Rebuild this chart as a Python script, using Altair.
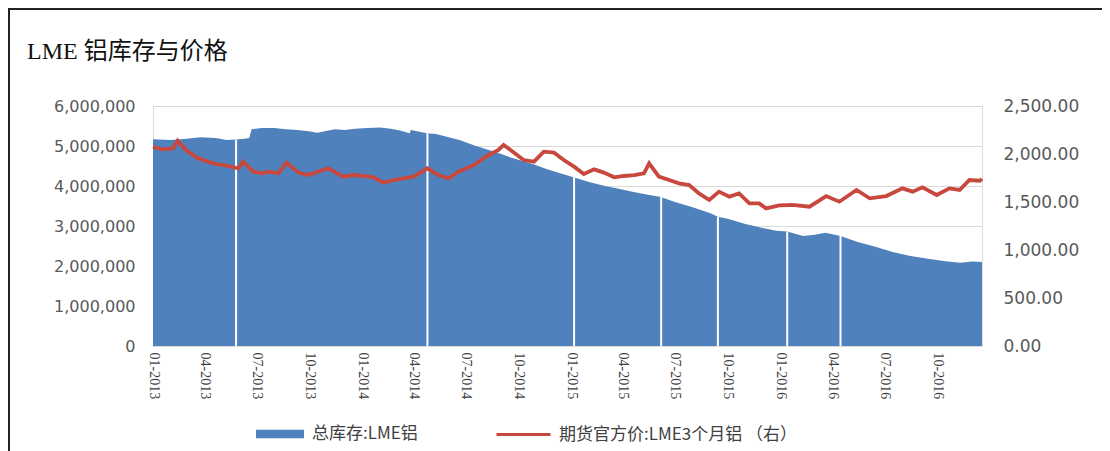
import altair as alt
import pandas as pd

# ---------------- data ----------------
inv_dates = [
    "2013-01-01", "2013-02-01", "2013-03-01", "2013-03-25", "2013-04-20", "2013-05-10", "2013-05-25",
    "2013-06-10", "2013-06-18", "2013-06-22", "2013-07-10", "2013-08-01", "2013-08-20", "2013-09-10",
    "2013-09-30", "2013-10-15", "2013-11-01", "2013-11-15", "2013-12-01", "2013-12-20", "2014-01-10",
    "2014-02-01", "2014-02-20", "2014-03-10", "2014-03-25", "2014-03-27", "2014-04-24", "2014-05-10",
    "2014-06-01", "2014-06-20", "2014-07-15", "2014-08-10", "2014-09-01", "2014-09-20", "2014-10-10",
    "2014-11-01", "2014-11-20", "2014-12-10", "2015-01-05", "2015-02-01", "2015-03-01", "2015-03-25",
    "2015-04-20", "2015-05-15", "2015-06-05", "2015-07-01", "2015-08-01", "2015-09-01", "2015-09-14",
    "2015-10-01", "2015-11-01", "2015-12-01", "2015-12-25", "2016-01-13", "2016-02-10", "2016-03-01",
    "2016-03-20", "2016-04-15", "2016-05-15", "2016-06-15", "2016-07-15", "2016-08-15", "2016-09-15",
    "2016-10-15", "2016-11-10", "2016-12-01", "2016-12-18",
]
inv_values = [
    5170000, 5150000, 5180000, 5220000, 5200000, 5150000, 5160000,
    5180000, 5200000, 5420000, 5450000, 5450000, 5420000, 5400000,
    5370000, 5330000, 5380000, 5420000, 5400000, 5430000, 5450000,
    5460000, 5430000, 5380000, 5320000, 5400000, 5320000, 5300000,
    5220000, 5150000, 5020000, 4900000, 4800000, 4700000, 4620000,
    4520000, 4420000, 4330000, 4220000, 4100000, 4000000, 3930000,
    3850000, 3780000, 3730000, 3600000, 3470000, 3320000, 3230000,
    3180000, 3050000, 2950000, 2880000, 2860000, 2750000, 2780000,
    2830000, 2750000, 2600000, 2480000, 2350000, 2250000, 2180000,
    2120000, 2080000, 2110000, 2100000,
]

gap_dates = ["2013-05-26", "2014-04-25", "2015-01-06", "2015-06-07", "2015-09-14", "2016-01-13", "2016-04-15"]
gap_values = [5160000, 5320000, 4220000, 3730000, 3230000, 2860000, 2750000]

price_dates = [
    "2013-01-01", "2013-01-10", "2013-01-18", "2013-02-05", "2013-02-13", "2013-02-20", "2013-03-03",
    "2013-03-21", "2013-04-16", "2013-05-12", "2013-05-30", "2013-06-07", "2013-06-25", "2013-07-12",
    "2013-07-21", "2013-08-08", "2013-08-22", "2013-09-12", "2013-09-29", "2013-10-25", "2013-11-03",
    "2013-11-29", "2013-12-17", "2014-01-03", "2014-01-21", "2014-02-07", "2014-02-25", "2014-03-14",
    "2014-04-01", "2014-04-25", "2014-05-14", "2014-06-01", "2014-06-18", "2014-07-15", "2014-08-10",
    "2014-08-27", "2014-09-05", "2014-09-17", "2014-10-10", "2014-10-28", "2014-11-14", "2014-12-02",
    "2014-12-19", "2015-01-06", "2015-01-23", "2015-02-10", "2015-02-27", "2015-03-17", "2015-04-03",
    "2015-04-21", "2015-05-08", "2015-05-17", "2015-06-03", "2015-06-21", "2015-07-08", "2015-07-26",
    "2015-08-12", "2015-08-30", "2015-09-16", "2015-10-04", "2015-10-21", "2015-11-08", "2015-11-25",
    "2015-12-07", "2015-12-30", "2016-01-22", "2016-02-21", "2016-03-21", "2016-04-13", "2016-05-13",
    "2016-06-05", "2016-07-04", "2016-08-01", "2016-08-19", "2016-09-05", "2016-09-30", "2016-10-22",
    "2016-11-09", "2016-11-26", "2016-12-14", "2016-12-18",
]
price_values = [
    2076, 2060, 2049, 2059, 2139, 2090, 2024,
    1955, 1903, 1875, 1851, 1920, 1816, 1799,
    1816, 1799, 1910, 1806, 1781, 1833, 1851,
    1764, 1781, 1771, 1757, 1701, 1729, 1747,
    1764, 1851, 1781, 1747, 1816, 1885, 1990,
    2042, 2094, 2042, 1937, 1920, 2024, 2014,
    1937, 1868, 1792, 1840, 1806, 1757, 1771,
    1781, 1799, 1903, 1764, 1729, 1694, 1677,
    1590, 1521, 1608, 1556, 1590, 1486, 1486,
    1434, 1465, 1469, 1451, 1562, 1503, 1625,
    1538, 1562, 1642, 1608, 1653, 1573, 1642,
    1625, 1729, 1722, 1740,
]

inv_ticks = [0, 1000000, 2000000, 3000000, 4000000, 5000000, 6000000]
price_ticks = [0, 500, 1000, 1500, 2000, 2500]
x_tick_months = [(2013, 1), (2013, 4), (2013, 7), (2013, 10),
                 (2014, 1), (2014, 4), (2014, 7), (2014, 10),
                 (2015, 1), (2015, 4), (2015, 7), (2015, 10),
                 (2016, 1), (2016, 4), (2016, 7), (2016, 10)]

title_text = "LME 铝库存与价格"
inv_name = "总库存:LME铝"
price_name = "期货官方价:LME3个月铝 （右）"

# ---------------- tables ----------------
inv_df = pd.DataFrame({"date": [d + "T00:00" for d in inv_dates], "v": inv_values, "s": inv_name})
gap_df = pd.DataFrame({"date": [d + "T00:00" for d in gap_dates], "v": gap_values})
price_df = pd.DataFrame({"date": [d + "T00:00" for d in price_dates], "p": price_values, "s": price_name})

BLUE = "#4F81BD"
RED = "#C8483E"
LABEL_FONT = "DejaVu Sans"
CJK_FONT = "Noto Sans CJK SC"

x_scale = alt.Scale(domain=[alt.DateTime(year=2013, month=1, date=1),
                            alt.DateTime(year=2016, month=12, date=18)])
x_axis = alt.Axis(
    values=[alt.DateTime(year=y, month=m, date=1) for y, m in x_tick_months],
    format="%m-%Y", labelAngle=90, labelFont="Liberation Serif", labelFontSize=14,
    labelColor="#404040", ticks=False, domain=False, grid=False, labelPadding=6, title=None,
)
inv_scale = alt.Scale(domain=[0, 6000000], nice=False)
price_scale = alt.Scale(domain=[0, 2500], nice=False)
inv_axis = alt.Axis(
    values=inv_ticks, format=",d", labelFont=LABEL_FONT, labelFontSize=16, labelColor="#595959",
    ticks=False, domain=False, grid=True, gridColor="#D9D9D9", labelPadding=18, title=None)

area = alt.Chart(inv_df).mark_area(interpolate="linear").encode(
    x=alt.X("date:T", scale=x_scale, axis=x_axis),
    y=alt.Y("v:Q", scale=inv_scale, axis=inv_axis),
    fill=alt.Fill("s:N", scale=alt.Scale(domain=[inv_name], range=[BLUE]), legend=alt.Legend(
        title=None, orient="none", legendX=102, legendY=303, symbolType="M-1,-0.18H1V0.18H-1Z",
        symbolSize=2304, symbolOpacity=1, labelFont=CJK_FONT, labelFontSize=17, labelColor="#404040",
        labelOffset=7, padding=0, labelLimit=400)),
)

gaps = alt.Chart(gap_df).mark_rule(color="white", strokeWidth=2).encode(
    x=alt.X("date:T", scale=x_scale, axis=x_axis),
    y=alt.Y("v:Q", scale=inv_scale, axis=inv_axis),
    y2=alt.datum(0),
)

inventory = alt.layer(area, gaps)

line = alt.Chart(price_df).mark_line(strokeWidth=3.8, interpolate="linear").encode(
    x=alt.X("date:T", scale=x_scale, axis=x_axis),
    y=alt.Y("p:Q", scale=price_scale, axis=alt.Axis(
        orient="right", values=price_ticks, format=",.2f", labelFont=LABEL_FONT, labelFontSize=17,
        labelColor="#595959", ticks=False, domain=False, grid=False, labelPadding=21, title=None)),
    stroke=alt.Stroke("s:N", scale=alt.Scale(domain=[price_name], range=[RED]), legend=alt.Legend(
        title=None, orient="none", legendX=342, legendY=300, symbolType="M-1,0H1",
        symbolSize=2916, symbolStrokeWidth=3, labelFont=CJK_FONT, labelFontSize=17,
        labelColor="#404040", labelOffset=7, padding=0, labelLimit=400)),
)

frame_df = pd.DataFrame({"k": [1]})
frame_left = alt.Chart(frame_df).mark_rule(color="#222222", strokeWidth=2).encode(
    x=alt.value(-144), y=alt.value(-97), y2=alt.value(400))
frame_top = alt.Chart(frame_df).mark_rule(color="#222222", strokeWidth=2).encode(
    x=alt.value(-145), x2=alt.value(1000), y=alt.value(-97))

chart = alt.layer(inventory, line, frame_left, frame_top).resolve_scale(
    y="independent", fill="independent", stroke="independent"
).properties(
    width=829, height=240,
    autosize=alt.AutoSizeParams(type="none"),
    padding={"left": 145, "top": 98, "right": 120, "bottom": 105},
    title=alt.TitleParams(title_text, anchor="start", frame="group", dx=-126, offset=0, dy=56,
                          font="Liberation Serif, Noto Sans CJK SC", fontSize=24,
                          fontWeight="normal", color="#111111"),
).configure_view(stroke="transparent", strokeWidth=0).configure(background="white")

chart.save("out.html", embed_options={"renderer": "svg", "actions": False})
